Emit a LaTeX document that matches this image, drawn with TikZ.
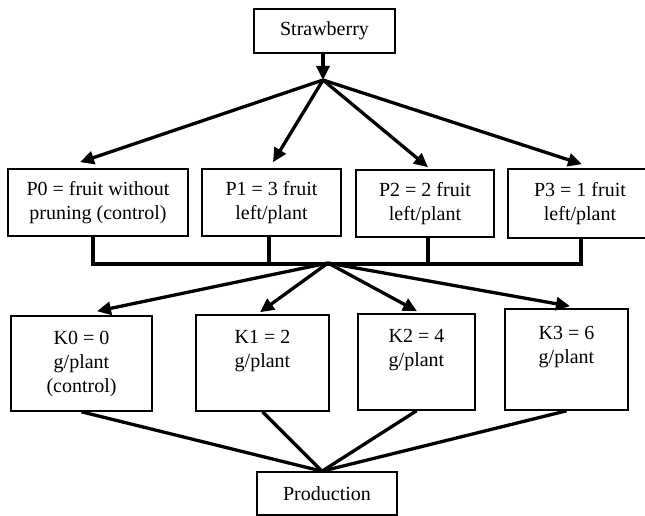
\documentclass[tikz,border=0pt]{standalone}
\usepackage{fontspec}
\setmainfont{Liberation Serif}
\usetikzlibrary{arrows.meta}
\begin{document}
\begin{tikzpicture}[x=1pt,y=-1pt,font=\fontsize{20}{24}\selectfont,
    box/.style={draw,line width=1.6pt,align=center,inner sep=0pt},
    link/.style={line width=3.3pt},
    arr/.style={link,-{Triangle[length=14pt,width=13pt]}}]
    \useasboundingbox (0,0) rectangle (645,516);
    % top and first level
    \node[box,minimum width=141,minimum height=44] (straw) at (324.5,31) {Strawberry};
    \node[box,minimum width=180,minimum height=67] (p0) at (98,202.5) {P0 = fruit without\\pruning (control)};
    \node[box,minimum width=139,minimum height=67] (p1) at (271.5,202.5) {P1 = 3 fruit\\left/plant};
    \node[box,minimum width=138,minimum height=67] (p2) at (425,203.5) {P2 = 2 fruit\\left/plant};
    \node[box,minimum width=144,minimum height=69] (p3) at (580,203.5) {P3 = 1 fruit\\left/plant};
    % second level
    \node[box,minimum width=141,minimum height=95] (k0) at (81.5,363.5) {K0 = 0\\g/plant\\(control)};
    \node[box,minimum width=133,minimum height=96] (k1) at (262.5,363) {K1 = 2\\g/plant\\\phantom{(control)}};
    \node[box,minimum width=117,minimum height=96] (k2) at (416.5,362) {K2 = 4\\g/plant\\\phantom{(control)}};
    \node[box,minimum width=123,minimum height=101] (k3) at (566.5,359.5) {K3 = 6\\g/plant\\\phantom{(control)}};
    \node[box,minimum width=140,minimum height=43] (prod) at (327,493.5) {Production};
    \coordinate (hub1) at (323,80);
    \coordinate (hub2) at (328,263);
    \coordinate (bus) at (0,264);
    \coordinate (hub3) at ([xshift=-5]prod.north);
    \coordinate (drop0) at ([xshift=-5]p0.south);
    \coordinate (drop1) at ([xshift=-2.5]p1.south);
    \coordinate (drop2) at ([xshift=3]p2.south);
    \coordinate (drop3) at ([xshift=1]p3.south);
    \draw[arr] (straw.south -| hub1) -- (hub1);
    \foreach \p/\s in {p0/{-18,-6}, p1/{1.5,-6}, p2/{3,-2}, p3/{2,-4}}
      \draw[arr] (hub1) -- ([shift={(\s)}]\p.north);
    % collecting bus
    \draw[link] (drop0) |- (bus -| drop3) -- (drop3);
    \draw[link] (drop1) -- (drop1 |- bus);
    \draw[link] (drop2) -- (drop2 |- bus);
    \foreach \k/\s in {k0/{15.5,-4}, k1/{-2.5,-2}, k2/{0.5,-2}, k3/{3.5,-2}}
      \draw[arr] (hub2) -- ([shift={(\s)}]\k.north);
    \foreach \k in {k0,k1,k2,k3}
      \draw[link] (\k.south) -- (hub3);
\end{tikzpicture}
\end{document}
